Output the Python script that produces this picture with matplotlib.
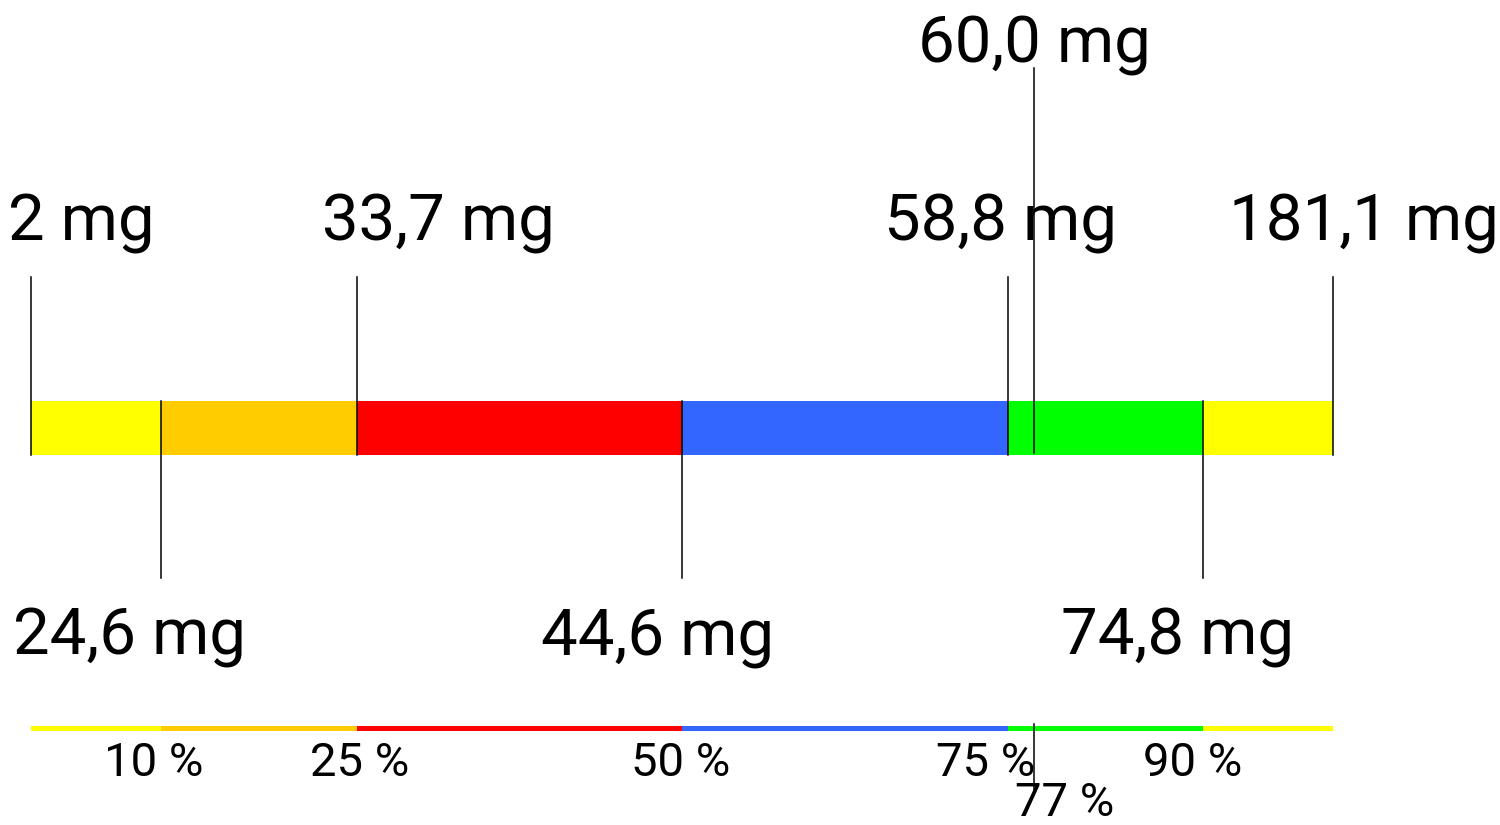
import matplotlib
matplotlib.use("Agg")
from matplotlib import pyplot as plt

# percentile breakpoints and the values at them
pcts = [0, 10, 25, 50, 75, 90, 100]
values_mg = ["2 mg", "24,6 mg", "33,7 mg", "44,6 mg", "58,8 mg", "74,8 mg", "181,1 mg"]
colors = ["#FFFF00", "#FFCC00", "#FF0000", "#3366FF", "#00FF00", "#FFFF00"]
mean_pct = 77
mean_label = "60,0 mg"
pct_ticks = [10, 25, 50, 75, 90]
pct_labels = ["10 %", "25 %", "50 %", "75 %", "90 %"]

# label centre offsets (percent units) relative to their marker
label_dx = [3.84, -2.4, 6.26, -1.84, -0.5, -1.9, 2.4]
above = [True, False, True, False, True, False, True]
pct_dx = [-0.54, 0.27, -0.08, -1.65, -0.75]

fig = plt.figure(figsize=(15, 8.25), dpi=100)
ax = fig.add_axes([0, 0, 1, 1])
ax.set_xlim(-31 / 13.02, 100 + 167 / 13.02)
ax.set_ylim(825, 0)
ax.axis("off")

big = dict(family=["Roboto", "DejaVu Sans"], fontsize=47)
small = dict(family=["Liberation Sans Narrow", "Roboto", "DejaVu Sans"], fontsize=34)

lefts = pcts[:-1]
widths = [b - a for a, b in zip(pcts[:-1], pcts[1:])]
ax.barh(428, widths, left=lefts, height=54, color=colors, linewidth=0)
ax.barh(728, widths, left=lefts, height=5, color=colors, linewidth=0)

for p, lab, dx, up in zip(pcts, values_mg, label_dx, above):
    if up:
        ax.plot([p, p], [277, 455], color="black", lw=1.1)
        ax.text(p + dx, 240, lab, ha="center", va="baseline", **big)
    else:
        ax.plot([p, p], [401, 578], color="black", lw=1.1)
        ax.text(p + dx, 655, lab, ha="center", va="baseline", **big)

# mean marker
ax.plot([mean_pct, mean_pct], [68, 453], color="black", lw=1.1)
ax.text(mean_pct + 0.04, 62, mean_label, ha="center", va="baseline", **big)
ax.plot([mean_pct, mean_pct], [724, 795], color="black", lw=1.1)
ax.text(mean_pct + 2.42, 816, f"{mean_pct} %", ha="center", va="baseline", **small)

for p, lab, dx in zip(pct_ticks, pct_labels, pct_dx):
    ax.text(p + dx, 776, lab, ha="center", va="baseline", **small)

plt.savefig("out.png", dpi=100)
plt.close()
